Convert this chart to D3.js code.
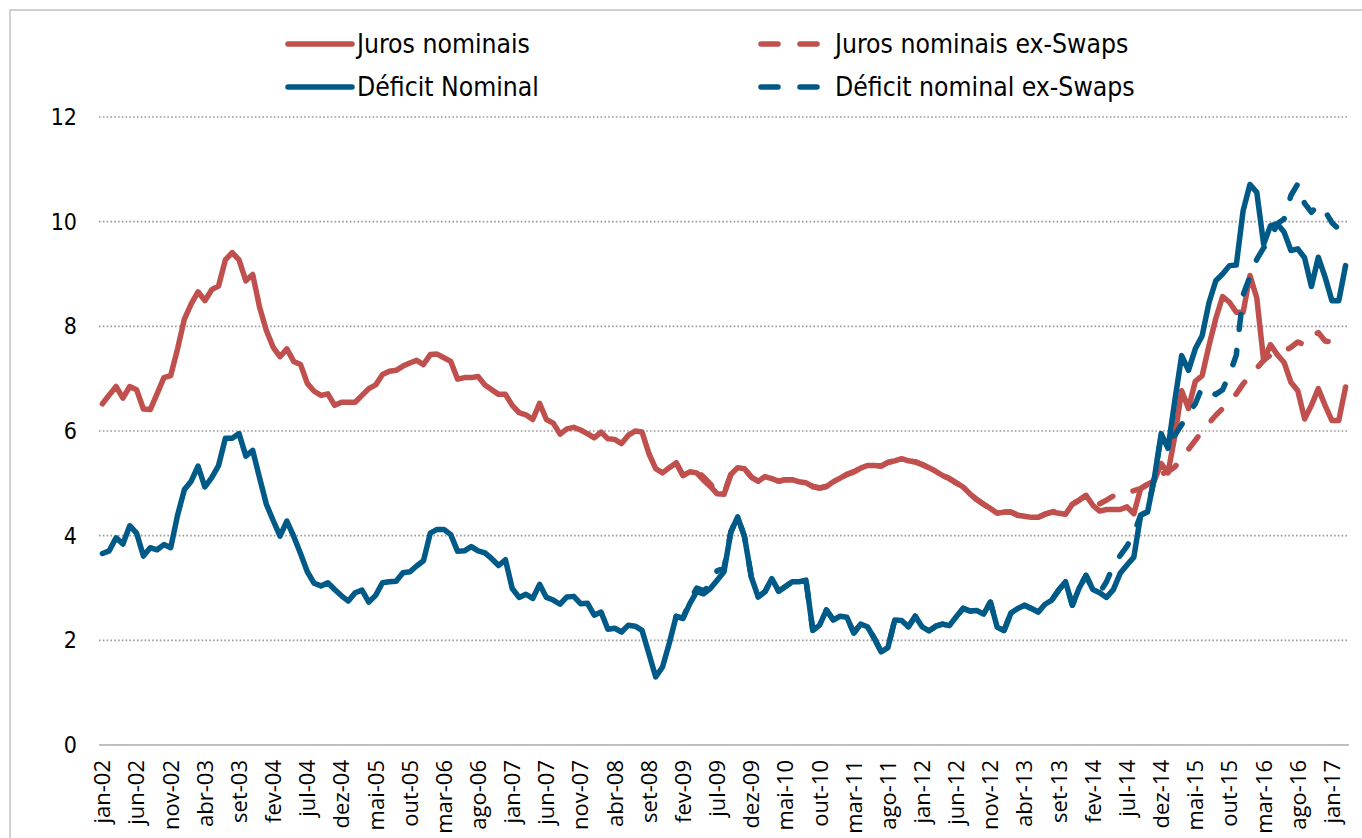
<!DOCTYPE html>
<html>
<head>
<meta charset="utf-8">
<script src="https://cdn.jsdelivr.net/npm/d3@7"></script>
<style>
  html, body { margin: 0; padding: 0; background: #fff; }
  svg { display: block; }
  .leg { font-family: "DejaVu Sans Condensed", "Liberation Sans Narrow", "DejaVu Sans", sans-serif; font-size: 26.3px; fill: #000; }
  .ylab { font-family: "DejaVu Sans Condensed", "Liberation Sans Narrow", "DejaVu Sans", sans-serif; font-size: 23px; fill: #000; }
  .xlab { font-family: "Open Sans", "DejaVu Sans", sans-serif; font-size: 22px; fill: #000; }
</style>
</head>
<body>
<svg id="chart" width="1362" height="838"></svg>
<script>
// ---------------- DATA ----------------
const categories = [
  "jan-02","fev-02","mar-02","abr-02","mai-02","jun-02","jul-02","ago-02","set-02","out-02","nov-02","dez-02",
  "jan-03","fev-03","mar-03","abr-03","mai-03","jun-03","jul-03","ago-03","set-03","out-03","nov-03","dez-03",
  "jan-04","fev-04","mar-04","abr-04","mai-04","jun-04","jul-04","ago-04","set-04","out-04","nov-04","dez-04",
  "jan-05","fev-05","mar-05","abr-05","mai-05","jun-05","jul-05","ago-05","set-05","out-05","nov-05","dez-05",
  "jan-06","fev-06","mar-06","abr-06","mai-06","jun-06","jul-06","ago-06","set-06","out-06","nov-06","dez-06",
  "jan-07","fev-07","mar-07","abr-07","mai-07","jun-07","jul-07","ago-07","set-07","out-07","nov-07","dez-07",
  "jan-08","fev-08","mar-08","abr-08","mai-08","jun-08","jul-08","ago-08","set-08","out-08","nov-08","dez-08",
  "jan-09","fev-09","mar-09","abr-09","mai-09","jun-09","jul-09","ago-09","set-09","out-09","nov-09","dez-09",
  "jan-10","fev-10","mar-10","abr-10","mai-10","jun-10","jul-10","ago-10","set-10","out-10","nov-10","dez-10",
  "jan-11","fev-11","mar-11","abr-11","mai-11","jun-11","jul-11","ago-11","set-11","out-11","nov-11","dez-11",
  "jan-12","fev-12","mar-12","abr-12","mai-12","jun-12","jul-12","ago-12","set-12","out-12","nov-12","dez-12",
  "jan-13","fev-13","mar-13","abr-13","mai-13","jun-13","jul-13","ago-13","set-13","out-13","nov-13","dez-13",
  "jan-14","fev-14","mar-14","abr-14","mai-14","jun-14","jul-14","ago-14","set-14","out-14","nov-14","dez-14",
  "jan-15","fev-15","mar-15","abr-15","mai-15","jun-15","jul-15","ago-15","set-15","out-15","nov-15","dez-15",
  "jan-16","fev-16","mar-16","abr-16","mai-16","jun-16","jul-16","ago-16","set-16","out-16","nov-16","dez-16",
  "jan-17","fev-17","mar-17"
];

const tickLabels = [
  "jan-02","jun-02","nov-02","abr-03","set-03","fev-04","jul-04","dez-04","mai-05","out-05",
  "mar-06","ago-06","jan-07","jun-07","nov-07","abr-08","set-08","fev-09","jul-09","dez-09",
  "mai-10","out-10","mar-11","ago-11","jan-12","jun-12","nov-12","abr-13","set-13","fev-14",
  "jul-14","dez-14","mai-15","out-15","mar-16","ago-16","jan-17"
];

const yTicks = [0, 2, 4, 6, 8, 10, 12];

// Juros nominais (% PIB), jan-02 .. mar-17
const jurosNominais = [
  6.52,6.69,6.85,6.63,6.85,6.79,6.42,6.41,6.71,7.02,7.06,7.57,
  8.14,8.43,8.66,8.49,8.70,8.77,9.27,9.41,9.27,8.87,8.99,8.37,
  7.92,7.60,7.42,7.57,7.33,7.27,6.91,6.76,6.68,6.71,6.49,6.55,
  6.55,6.55,6.68,6.81,6.88,7.08,7.14,7.16,7.24,7.30,7.35,7.27,
  7.46,7.47,7.40,7.33,6.99,7.02,7.02,7.04,6.88,6.79,6.70,6.70,
  6.49,6.35,6.31,6.22,6.53,6.22,6.15,5.94,6.04,6.07,6.02,5.95,
  5.87,5.98,5.85,5.84,5.76,5.92,6.00,5.98,5.57,5.28,5.20,5.30,
  5.39,5.15,5.22,5.20,5.06,4.94,4.80,4.79,5.17,5.30,5.28,5.12,
  5.04,5.13,5.09,5.04,5.07,5.07,5.03,5.01,4.94,4.91,4.94,5.03,
  5.10,5.17,5.22,5.29,5.34,5.34,5.33,5.40,5.43,5.47,5.43,5.41,
  5.36,5.30,5.23,5.15,5.09,5.01,4.93,4.80,4.69,4.60,4.52,4.43,
  4.45,4.45,4.39,4.37,4.35,4.35,4.41,4.45,4.43,4.41,4.60,4.68,
  4.77,4.58,4.47,4.50,4.50,4.50,4.55,4.42,4.90,4.98,5.05,5.38,
  5.20,5.90,6.77,6.43,6.95,7.06,7.63,8.15,8.57,8.46,8.27,8.27,
  8.97,8.54,7.35,7.65,7.46,7.31,6.93,6.77,6.23,6.49,6.81,6.49,
  6.20,6.20,6.84
];

// Déficit Nominal (% PIB), jan-02 .. mar-17
const deficitNominal = [
  3.66,3.71,3.96,3.84,4.19,4.05,3.61,3.77,3.73,3.83,3.77,4.39,
  4.88,5.04,5.33,4.93,5.11,5.34,5.86,5.86,5.95,5.52,5.63,5.11,
  4.60,4.29,3.99,4.28,3.99,3.66,3.31,3.09,3.04,3.10,2.97,2.85,
  2.75,2.91,2.96,2.73,2.86,3.10,3.12,3.13,3.29,3.31,3.42,3.52,
  4.05,4.12,4.12,4.02,3.70,3.71,3.79,3.71,3.67,3.56,3.43,3.54,
  2.99,2.82,2.88,2.80,3.07,2.82,2.77,2.69,2.83,2.84,2.70,2.71,
  2.48,2.54,2.21,2.23,2.16,2.29,2.27,2.19,1.75,1.30,1.49,1.95,
  2.46,2.42,2.70,2.93,2.89,2.99,3.15,3.31,4.07,4.36,3.98,3.21,
  2.83,2.93,3.18,2.94,3.03,3.12,3.12,3.15,2.19,2.29,2.58,2.39,
  2.46,2.44,2.14,2.31,2.26,2.04,1.78,1.86,2.39,2.38,2.26,2.46,
  2.26,2.18,2.27,2.31,2.28,2.45,2.61,2.56,2.57,2.50,2.73,2.25,
  2.19,2.52,2.61,2.67,2.61,2.54,2.69,2.77,2.96,3.12,2.67,3.00,
  3.24,2.97,2.91,2.82,2.97,3.28,3.44,3.59,4.39,4.45,5.10,5.95,
  5.67,6.58,7.44,7.16,7.57,7.82,8.45,8.87,9.00,9.16,9.17,10.21,
  10.71,10.56,9.57,9.92,9.96,9.80,9.45,9.48,9.31,8.76,9.32,8.94,
  8.49,8.49,9.16
];

// ex-Swaps series start at jan-09
const exSwapsStart = "jan-09";

const jurosExSwaps = [
  5.39,5.15,5.24,5.25,5.12,4.99,4.82,4.80,5.17,5.30,
  5.28,5.12,5.04,5.13,5.09,5.04,5.07,5.07,5.03,5.01,
  4.94,4.91,4.94,5.03,5.10,5.17,5.22,5.29,5.34,5.34,
  5.33,5.40,5.43,5.47,5.43,5.41,5.36,5.30,5.23,5.15,
  5.09,5.01,4.93,4.80,4.69,4.60,4.52,4.43,4.45,4.45,
  4.39,4.37,4.35,4.35,4.41,4.45,4.49,4.47,4.60,4.68,
  4.77,4.58,4.61,4.68,4.76,4.80,4.83,4.86,4.90,4.98,
  5.05,5.18,5.22,5.31,5.49,5.65,5.82,6.00,6.15,6.30,
  6.43,6.57,6.71,6.90,7.06,7.20,7.35,7.45,7.50,7.52,
  7.60,7.70,7.65,7.80,7.88,7.72,7.70,7.68,7.68
];

const deficitExSwaps = [
  2.46,2.42,2.76,3.00,2.95,3.05,3.33,3.38,4.07,4.36,
  3.98,3.21,2.83,2.93,3.18,2.94,3.03,3.12,3.12,3.15,
  2.19,2.29,2.58,2.39,2.46,2.44,2.14,2.31,2.26,2.04,
  1.78,1.86,2.39,2.38,2.26,2.46,2.26,2.18,2.27,2.31,
  2.28,2.45,2.61,2.56,2.57,2.50,2.73,2.25,2.19,2.52,
  2.61,2.67,2.61,2.54,2.69,2.77,2.96,3.12,2.67,3.00,
  3.24,2.97,2.91,3.12,3.43,3.62,3.80,4.04,4.39,4.47,
  5.10,5.90,5.85,5.92,6.12,6.33,6.52,6.84,6.75,6.70,
  6.79,7.08,7.45,8.60,8.95,9.28,9.50,9.67,9.96,10.05,
  10.50,10.72,10.35,10.18,10.32,10.20,9.98,9.86,9.84
];

const seriesNames = ["Juros nominais", "Juros nominais ex-Swaps", "Déficit Nominal", "Déficit nominal ex-Swaps"];
const colors = { red: "#c0504d", blue: "#005a87" };

// ---------------- CHART ----------------
const svg = d3.select("#chart");

// outer frame (light border)
svg.append("path")
  .attr("d", "M10,850 L10,10 L1370,10")
  .attr("fill", "none")
  .attr("stroke", "#d0d0d0")
  .attr("stroke-width", 2);

const x = d3.scaleBand().domain(categories).range([99, 1349]).paddingInner(0).paddingOuter(0);
const xc = c => x(c) + x.bandwidth() / 2;
const y = d3.scaleLinear().domain([0, 12]).range([745, 117]);

// gridlines
svg.append("g").selectAll("line")
  .data(yTicks.filter(t => t > 0))
  .join("line")
  .attr("x1", 99).attr("x2", 1349)
  .attr("y1", d => y(d)).attr("y2", d => y(d))
  .attr("stroke", "#9a9a9a")
  .attr("stroke-width", 1.6)
  .attr("stroke-dasharray", "1.6,2.2");

// baseline
svg.append("line")
  .attr("x1", 99).attr("x2", 1349)
  .attr("y1", y(0)).attr("y2", y(0))
  .attr("stroke", "#bfbfbf").attr("stroke-width", 2);

// y axis labels
const yAxis = d3.axisLeft(y).tickValues(yTicks).tickSize(0).tickPadding(0).tickFormat(d3.format("d"));
const yg = svg.append("g").attr("transform", "translate(77,0)").call(yAxis);
yg.select(".domain").remove();
yg.selectAll("text").attr("class", "ylab").attr("font-size", null).attr("font-family", null).attr("fill", "#000");

// x axis labels
const xAxis = d3.axisBottom(x).tickValues(tickLabels).tickSize(0).tickPadding(0);
const xg = svg.append("g").attr("transform", "translate(0,745)").call(xAxis);
xg.select(".domain").remove();
xg.selectAll("text")
  .attr("class", "xlab")
  .attr("font-size", null).attr("font-family", null)
  .attr("fill", "#000")
  .attr("text-anchor", "end")
  .attr("transform", "rotate(-90)")
  .attr("x", -15)
  .attr("y", 0)
  .attr("dy", "0.36em");

// lines
const startIdx = categories.indexOf(exSwapsStart);
const mk = (arr, off) => arr.map((v, i) => ({ c: categories[i + off], v }));
const line = d3.line().x(d => xc(d.c)).y(d => y(d.v)).curve(d3.curveLinear);

const drawSeries = (data, color, dashed) => {
  svg.append("path")
    .datum(data)
    .attr("d", line)
    .attr("fill", "none")
    .attr("stroke", color)
    .attr("stroke-width", 5.5)
    .attr("stroke-linejoin", "round")
    .attr("stroke-linecap", "round")
    .attr("stroke-dasharray", dashed ? "15,21" : null);
};

drawSeries(mk(jurosNominais, 0), colors.red, false);
drawSeries(mk(deficitNominal, 0), colors.blue, false);
drawSeries(mk(jurosExSwaps, startIdx), colors.red, true);
drawSeries(mk(deficitExSwaps, startIdx), colors.blue, true);

// legend
const legendItems = [
  { name: seriesNames[0], color: colors.red, dashed: false, x: 288, y: 44 },
  { name: seriesNames[1], color: colors.red, dashed: true, x: 761, y: 44 },
  { name: seriesNames[2], color: colors.blue, dashed: false, x: 288, y: 87 },
  { name: seriesNames[3], color: colors.blue, dashed: true, x: 761, y: 87 }
];
const lg = svg.append("g").selectAll("g").data(legendItems).join("g");
lg.append("line")
  .attr("x1", d => d.x).attr("x2", d => d.x + 64)
  .attr("y1", d => d.y).attr("y2", d => d.y)
  .attr("stroke", d => d.color)
  .attr("stroke-width", 5.5)
  .attr("stroke-linecap", "round")
  .attr("stroke-dasharray", d => d.dashed ? "17,22" : null);
lg.append("text")
  .attr("class", "leg")
  .attr("x", d => d.dashed ? d.x + 74 : d.x + 69)
  .attr("y", d => d.y)
  .attr("dy", "0.36em")
  .text(d => d.name);
</script>
</body>
</html>
